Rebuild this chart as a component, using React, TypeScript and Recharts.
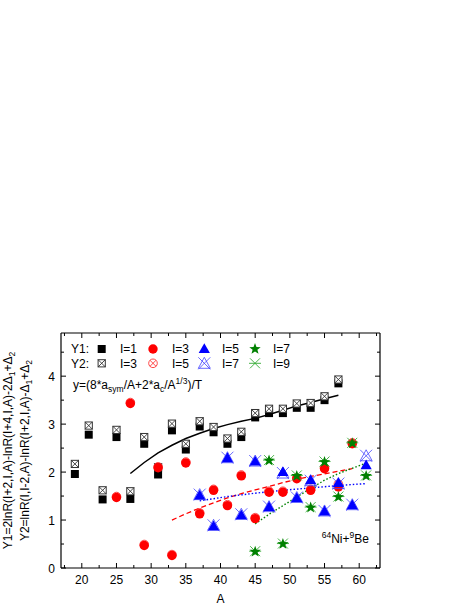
import React from 'react';
import { ComposedChart, Scatter, XAxis, YAxis, Legend } from 'recharts';

const FONT = '"Liberation Sans", Arial, Helvetica, sans-serif';

// ---------------- data ----------------
// Y1, I=1 (black squares)
const aY1I1 = [19, 21, 23, 25, 27, 29, 31, 33, 35, 37, 39, 41, 43, 45, 47, 49, 51, 53, 55, 57];
const vY1I1 = [1.96, 2.78, 1.43, 2.73, 1.44, 2.59, 1.95, 2.87, 2.47, 2.95, 2.83, 2.59, 2.73, 3.14, 3.23, 3.23, 3.34, 3.34, 3.5, 3.85];
// Y2, I=3 (crossed squares)
const aY2I3 = [19, 21, 23, 25, 27, 29, 31, 33, 35, 37, 39, 41, 43, 45, 47, 49, 51, 53, 55, 57];
const vY2I3 = [2.17, 2.97, 1.62, 2.88, 1.6, 2.73, 2.1, 3.01, 2.59, 3.06, 2.94, 2.7, 2.84, 3.23, 3.32, 3.32, 3.43, 3.44, 3.58, 3.93];
// Y1, I=3 (red circles)
const aY1I3 = [25, 27, 29, 31, 33, 35, 37, 39, 41, 43, 45, 47, 49, 51, 53, 55, 57, 59];
const vY1I3 = [1.47, 3.43, 0.47, 2.09, 0.26, 2.19, 1.13, 1.62, 1.3, 1.92, 1.03, 1.58, 1.58, 1.86, 1.62, 2.07, 1.69, 2.59];
// Y2, I=5 (red crossed circles)
const aY2I5 = [25, 27, 29, 31, 33, 35, 37, 39, 41, 43, 45, 47, 49, 51, 53, 55, 57, 59];
const vY2I5 = [1.49, 3.45, 0.49, 2.11, 0.28, 2.21, 1.15, 1.64, 1.32, 1.94, 1.05, 1.6, 1.6, 1.88, 1.64, 2.09, 1.75, 2.61];
// Y1, I=5 (blue triangles)
const aY1I5 = [37, 39, 41, 43, 45, 47, 49, 51, 53, 55, 57, 59, 61];
const vY1I5 = [1.51, 0.87, 2.29, 1.1, 2.22, 1.27, 2.0, 1.46, 1.83, 1.18, 1.77, 1.31, 2.14];
// Y2, I=7 (blue crosses)
const aY2I7 = [37, 39, 41, 43, 45, 47, 49, 51, 53, 55, 57, 59, 61];
const vY2I7 = [1.53, 0.89, 2.3, 1.12, 2.23, 1.28, 1.98, 1.47, 1.82, 1.19, 1.76, 1.32, 2.34];
// Y1, I=7 (green stars)
const aY1I7 = [45, 47, 49, 51, 53, 55, 57, 59, 61];
const vY1I7 = [0.34, 2.24, 0.5, 1.92, 1.26, 2.21, 1.48, 2.6, 1.92];
// Y2, I=9 (green asterisks)
const aY2I9 = [45, 47, 49, 51, 53, 55, 57, 59, 61];
const vY2I9 = [0.35, 2.25, 0.51, 1.93, 1.27, 2.22, 1.49, 2.61, 1.93];

// fitted curves
const aFitBlack = [27, 29, 31, 33, 35, 37, 39, 41, 43, 45, 47, 49, 51, 53, 55, 57];
const vFitBlack = [1.97, 2.2, 2.4, 2.56, 2.7, 2.81, 2.91, 2.99, 3.06, 3.12, 3.2, 3.29, 3.38, 3.45, 3.53, 3.6];
const aFitRed = [33, 35, 37, 39, 41, 43, 45, 47, 49, 51, 53, 55, 57, 59];
const vFitRed = [1.0, 1.13, 1.25, 1.36, 1.46, 1.55, 1.63, 1.7, 1.78, 1.85, 1.91, 1.96, 2.02, 2.07];
const aFitBlue = [37, 41, 45, 49, 53, 57, 61];
const vFitBlue = [1.4, 1.49, 1.56, 1.62, 1.67, 1.72, 1.76];
const aFitGreen = [45, 47, 49, 51, 53, 55, 57, 59, 61];
const vFitGreen = [0.92, 1.12, 1.3, 1.48, 1.66, 1.83, 1.97, 2.08, 2.19];

// axes
const xDomain = [17, 63];
const yDomain = [0, 4.9];
const xTicks = [17.5, 20, 22.5, 25, 27.5, 30, 32.5, 35, 37.5, 40, 42.5, 45, 47.5, 50, 52.5, 55, 57.5, 60, 62.5];
const xMajor = [20, 25, 30, 35, 40, 45, 50, 55, 60];
const yTicks = [0, 0.5, 1, 1.5, 2, 2.5, 3, 3.5, 4, 4.5];
const yMajor = [0, 1, 2, 3, 4];

const pts = (xs: number[], ys: number[]) => xs.map((x, i) => ({ x, y: ys[i] }));

// ---------------- markers ----------------
const starPath = (cx: number, cy: number, R: number, r: number) => {
  let d = '';
  for (let i = 0; i < 10; i++) {
    const rad = i % 2 === 0 ? R : r;
    const ang = -Math.PI / 2 + (i * Math.PI) / 5;
    d += (i === 0 ? 'M' : 'L') + (cx + rad * Math.cos(ang)).toFixed(2) + ',' + (cy + rad * Math.sin(ang)).toFixed(2);
  }
  return d + 'Z';
};

const SquareMark = (cx: number, cy: number) => (
  <rect x={cx - 4} y={cy - 4} width={8} height={8} fill="#000" />
);
const CrossSquareMark = (cx: number, cy: number) => (
  <g>
    <rect x={cx - 3.6} y={cy - 3.6} width={7.2} height={7.2} fill="#fff" stroke="#333" strokeWidth={1} />
    <path d={`M${cx - 3.6},${cy - 3.6}L${cx + 3.6},${cy + 3.6}M${cx - 3.6},${cy + 3.6}L${cx + 3.6},${cy - 3.6}`} stroke="#333" strokeWidth={0.9} />
  </g>
);
const CircleMark = (cx: number, cy: number) => <circle cx={cx} cy={cy} r={4.7} fill="#ff0000" />;
const CrossCircleMark = (cx: number, cy: number) => (
  <g fill="none" stroke="#ff3333" strokeWidth={0.9}>
    <circle cx={cx} cy={cy} r={4.3} />
    <path d={`M${cx - 3},${cy - 3}L${cx + 3},${cy + 3}M${cx - 3},${cy + 3}L${cx + 3},${cy - 3}`} />
  </g>
);
const TriangleMark = (cx: number, cy: number) => (
  <path d={`M${cx},${cy - 5.8}L${cx + 5.6},${cy + 4}L${cx - 5.6},${cy + 4}Z`} fill="#0000ff" />
);
const CrossTriMark = (cx: number, cy: number) => (
  <g fill="none" stroke="#4444ff" strokeWidth={0.8}>
    <path d={`M${cx},${cy - 6}L${cx + 6},${cy + 5}L${cx - 6},${cy + 5}Z`} />
    <path d={`M${cx - 6},${cy - 6}L${cx + 6},${cy + 6}M${cx - 6},${cy + 6}L${cx + 6},${cy - 6}`} />
  </g>
);
const StarMark = (cx: number, cy: number) => <path d={starPath(cx, cy, 6, 2.5)} fill="#008000" />;
const AsteriskMark = (cx: number, cy: number) => (
  <g fill="none" stroke="#33aa33" strokeWidth={0.9}>
    <path d={`M${cx - 5},${cy - 5}L${cx + 5},${cy + 5}M${cx - 5},${cy + 5}L${cx + 5},${cy - 5}M${cx - 6},${cy}L${cx + 6},${cy}`} />
  </g>
);

const shapeOf = (fn: (cx: number, cy: number) => React.ReactElement) => (p: any) => fn(p.cx, p.cy);
const noShape = () => <g />;

// ---------------- ticks ----------------
const BottomTick = (p: any) => {
  const v = p.payload.value;
  const major = xMajor.includes(v);
  return (
    <g>
      <line x1={p.x} x2={p.x} y1={p.y} y2={p.y - (major ? 5 : 3)} stroke="#000" strokeWidth={1} />
      {major && (
        <text x={p.x} y={p.y + 15.5} textAnchor="middle" fontFamily={FONT} fontSize={12} fill="#000">
          {v}
        </text>
      )}
    </g>
  );
};
const TopTick = (p: any) => {
  const major = xMajor.includes(p.payload.value);
  return <line x1={p.x} x2={p.x} y1={p.y} y2={p.y + (major ? 5 : 3)} stroke="#000" strokeWidth={1} />;
};
const LeftTick = (p: any) => {
  const v = p.payload.value;
  const major = yMajor.includes(v);
  return (
    <g>
      <line x1={p.x} x2={p.x + (major ? 5 : 3)} y1={p.y} y2={p.y} stroke="#000" strokeWidth={1} />
      {major && (
        <text x={p.x - 6} y={p.y + 4.5} textAnchor="end" fontFamily={FONT} fontSize={12} fill="#000">
          {v}
        </text>
      )}
    </g>
  );
};
const RightTick = (p: any) => {
  const major = yMajor.includes(p.payload.value);
  return <line x1={p.x} x2={p.x - (major ? 5 : 3)} y1={p.y} y2={p.y} stroke="#000" strokeWidth={1} />;
};

const YLabel = (props: any) => {
  const vb = props.viewBox || { x: 0, y: 0, width: 0, height: 0 };
  const cy = vb.y + vb.height / 2;
  return (
    <g fontFamily={FONT} fontSize={12} fill="#000">
      <text transform={`translate(${vb.x + 11.5},${cy}) rotate(-90)`} textAnchor="middle">
        <tspan>Y1=2lnR(I+2,I,A)-lnR(I+4,I,A)-2Δ</tspan>
        <tspan dy={3} fontSize={8.5}>1</tspan>
        <tspan dy={-3}>+Δ</tspan>
        <tspan dy={3} fontSize={8.5}>2</tspan>
      </text>
      <text transform={`translate(${vb.x + 28.5},${cy}) rotate(-90)`} textAnchor="middle">
        <tspan>Y2=lnR(I,I-2,A)-lnR(I+2,I,A)-Δ</tspan>
        <tspan dy={3} fontSize={8.5}>1</tspan>
        <tspan dy={-3}>+Δ</tspan>
        <tspan dy={3} fontSize={8.5}>2</tspan>
      </text>
    </g>
  );
};

const XLabel = (props: any) => {
  const vb = props.viewBox || { x: 0, y: 0, width: 0, height: 0 };
  return (
    <text x={vb.x + vb.width / 2} y={vb.y + 35} textAnchor="middle" fontFamily={FONT} fontSize={12} fill="#000">
      A
    </text>
  );
};

// ---------------- legend / annotations ----------------
const legendRow1 = [
  { mark: SquareMark, label: 'I=1' },
  { mark: CircleMark, label: 'I=3' },
  { mark: TriangleMark, label: 'I=5' },
  { mark: StarMark, label: 'I=7' },
];
const legendRow2 = [
  { mark: CrossSquareMark, label: 'I=3' },
  { mark: CrossCircleMark, label: 'I=5' },
  { mark: CrossTriMark, label: 'I=7' },
  { mark: AsteriskMark, label: 'I=9' },
];
const legendMarkX = [101.7, 153, 204.3, 255];
const legendTextX = [120, 172, 222, 273];

const Overlay = () => {
  const rows = [
    { title: 'Y1:', items: legendRow1, my: 349, ty: 353.3 },
    { title: 'Y2:', items: legendRow2, my: 363.3, ty: 367.6 },
  ];
  return (
    <svg width={469} height={607} style={{ overflow: 'visible', display: 'block' }}>
      <g fontFamily={FONT} fontSize={12} fill="#000">
        {rows.map((r, ri) => (
          <g key={ri}>
            <text x={71} y={r.ty}>{r.title}</text>
            {r.items.map((it, i) => (
              <g key={i}>
                {it.mark(legendMarkX[i], r.my)}
                <text x={legendTextX[i]} y={r.ty}>{it.label}</text>
              </g>
            ))}
          </g>
        ))}
        <text x={73} y={389}>
          <tspan>y=(8*a</tspan>
          <tspan dy={3} fontSize={8.5}>sym</tspan>
          <tspan dy={-3}>/A+2*a</tspan>
          <tspan dy={3} fontSize={8.5}>c</tspan>
          <tspan dy={-3}>/A</tspan>
          <tspan dy={-5} fontSize={8.5}>1/3</tspan>
          <tspan dy={5}>)/T</tspan>
        </text>
        <text x={321.7} y={543.3}>
          <tspan dy={-5} fontSize={8.5}>64</tspan>
          <tspan dy={5}>Ni+</tspan>
          <tspan dy={-5} fontSize={8.5}>9</tspan>
          <tspan dy={5}>Be</tspan>
        </text>
      </g>
    </svg>
  );
};

export default function App() {
  return (
    <div style={{ width: 469, height: 607 }}>
      <style>{`html,body{margin:0;padding:0;overflow:hidden}.recharts-surface{overflow:visible}`}</style>
      <ComposedChart
        width={469}
        height={607}
        margin={{ top: 328, right: 84, bottom: 0, left: 0 }}
        style={{ fontFamily: FONT }}
      >
        <XAxis
          dataKey="x"
          type="number"
          domain={xDomain}
          ticks={xTicks}
          interval={0}
          allowDataOverflow
          height={39}
          tickSize={0}
          tickMargin={0}
          tickLine={false}
          axisLine={{ stroke: '#000', strokeWidth: 1.2 }}
          tick={(p: any) => <BottomTick {...p} />}
          label={{ content: (p: any) => <XLabel {...p} /> }}
        />
        <XAxis
          xAxisId="top"
          orientation="top"
          dataKey="x"
          type="number"
          domain={xDomain}
          ticks={xTicks}
          interval={0}
          allowDataOverflow
          height={5}
          tickSize={0}
          tickMargin={0}
          tickLine={false}
          axisLine={{ stroke: '#000', strokeWidth: 1.2 }}
          tick={(p: any) => <TopTick {...p} />}
        />
        <YAxis
          dataKey="y"
          type="number"
          domain={yDomain}
          ticks={yTicks}
          interval={0}
          allowDataOverflow
          width={61}
          tickSize={0}
          tickMargin={0}
          tickLine={false}
          axisLine={{ stroke: '#000', strokeWidth: 1.2 }}
          tick={(p: any) => <LeftTick {...p} />}
          label={{ content: (p: any) => <YLabel {...p} /> }}
        />
        <YAxis
          yAxisId="right"
          orientation="right"
          dataKey="y"
          type="number"
          domain={yDomain}
          ticks={yTicks}
          interval={0}
          allowDataOverflow
          width={5}
          tickSize={0}
          tickMargin={0}
          tickLine={false}
          axisLine={{ stroke: '#000', strokeWidth: 1.2 }}
          tick={(p: any) => <RightTick {...p} />}
        />

        <Scatter name="fit black" data={pts(aFitBlack, vFitBlack)} isAnimationActive={false} shape={noShape}
          line={{ stroke: '#000', strokeWidth: 1.5, fill: 'none' }} lineType="joint" legendType="none" />
        <Scatter name="fit red" data={pts(aFitRed, vFitRed)} isAnimationActive={false} shape={noShape}
          line={{ stroke: '#ff0000', strokeWidth: 1.3, strokeDasharray: '5 3', fill: 'none' }} lineType="joint" legendType="none" />
        <Scatter name="fit blue" data={pts(aFitBlue, vFitBlue)} isAnimationActive={false} shape={noShape}
          line={{ stroke: '#0000ff', strokeWidth: 1.4, strokeDasharray: '1.5 2', fill: 'none' }} lineType="joint" legendType="none" />
        <Scatter name="fit green" data={pts(aFitGreen, vFitGreen)} isAnimationActive={false} shape={noShape}
          line={{ stroke: '#008000', strokeWidth: 1.4, strokeDasharray: '1.5 2', fill: 'none' }} lineType="joint" legendType="none" />

        <Scatter name="Y1 I=1" data={pts(aY1I1, vY1I1)} isAnimationActive={false} shape={shapeOf(SquareMark)} />
        <Scatter name="Y2 I=3" data={pts(aY2I3, vY2I3)} isAnimationActive={false} shape={shapeOf(CrossSquareMark)} />
        <Scatter name="Y2 I=5" data={pts(aY2I5, vY2I5)} isAnimationActive={false} shape={shapeOf(CrossCircleMark)} />
        <Scatter name="Y1 I=3" data={pts(aY1I3, vY1I3)} isAnimationActive={false} shape={shapeOf(CircleMark)} />
        <Scatter name="Y2 I=7" data={pts(aY2I7, vY2I7)} isAnimationActive={false} shape={shapeOf(CrossTriMark)} />
        <Scatter name="Y1 I=5" data={pts(aY1I5, vY1I5)} isAnimationActive={false} shape={shapeOf(TriangleMark)} />
        <Scatter name="Y2 I=9" data={pts(aY2I9, vY2I9)} isAnimationActive={false} shape={shapeOf(AsteriskMark)} />
        <Scatter name="Y1 I=7" data={pts(aY1I7, vY1I7)} isAnimationActive={false} shape={shapeOf(StarMark)} />

        <Legend
          layout="vertical"
          align="center"
          verticalAlign="middle"
          wrapperStyle={{ left: 0, top: 0, width: 469, height: 607, pointerEvents: 'none' }}
          content={() => <Overlay />}
        />
      </ComposedChart>
    </div>
  );
}
